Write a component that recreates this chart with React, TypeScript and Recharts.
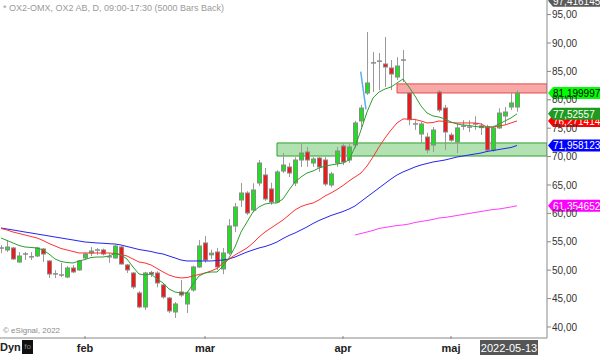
import React from 'react';
import { ComposedChart, Bar, Line, XAxis, YAxis, ReferenceArea, ReferenceLine } from 'recharts';

// ---- price data (daily bars, index 0 = first visible bar) ----
const opens = [53.9,53.56,53.91,51.44,52.85,52.35,52.5,53.73,51.62,49.35,49.15,48.8,50.39,50.04,52.15,53.03,53.55,53.56,52.35,52.15,54.08,50.92,49.5,45.99,43.52,49.6,49.5,47.39,45.1,42.64,46.16,44.05,46.51,50.56,54.79,52.7,53.2,50.21,53.03,57.78,62.36,63.59,60.6,65.35,66.76,64.3,62.0,67.46,68.17,65.35,69.4,70.81,68.87,69.75,69.4,65.0,68.87,71.86,69.4,72.04,76.27,81.2,86.5,86.8,86.3,85.6,84.01,87.0,81.2,75.75,73.98,73.45,72.04,81.37,78.55,73.8,72.57,75.35,75.2,75.75,75.4,75.2,71.16,75.04,77.15,78.73,78.73];
const highs = [54.4,55.3,54.1,53.2,53.2,53.2,54.1,53.9,51.8,50.0,51.27,50.7,50.9,51.8,53.1,54.08,53.9,53.8,53.0,54.4,54.3,51.1,49.7,46.3,49.7,49.9,49.8,47.6,45.3,44.4,48.27,46.3,50.8,55.3,56.0,53.6,53.9,53.9,59.0,61.83,65.35,63.9,65.3,69.4,68.0,65.4,67.6,70.63,68.9,69.9,72.39,71.7,69.9,69.9,69.9,67.3,71.7,72.4,72.4,76.3,79.1,91.94,88.41,88.24,91.06,87.0,87.5,88.77,81.4,76.4,76.1,74.2,75.2,81.7,79.1,74.2,75.9,76.4,76.4,77.1,75.9,75.6,75.4,78.5,78.73,81.37,81.7];
const lows = [53.0,53.2,51.8,51.27,51.8,51.8,52.3,51.44,48.63,48.6,48.8,48.6,49.5,49.9,51.9,52.5,52.7,52.6,51.3,52.0,51.0,49.5,46.7,43.3,43.0,48.8,47.0,45.0,42.46,41.58,45.3,42.46,46.2,50.4,51.3,52.0,50.0,49.3,52.7,56.7,61.13,59.7,60.2,64.8,62.2,61.5,61.8,67.1,66.4,64.8,68.17,68.2,68.2,67.3,64.8,64.6,68.2,68.5,68.9,71.5,75.2,80.85,81.37,81.7,82.25,81.7,83.5,83.13,75.5,74.7,72.39,70.6,70.8,77.8,71.16,72.6,70.6,74.7,74.3,74.7,73.8,70.8,70.8,74.9,75.6,78.2,77.9];
const closes = [53.9,54.08,51.97,52.5,52.85,52.35,53.91,52.85,49.33,49.35,49.15,50.39,49.69,51.62,52.85,53.38,53.55,52.85,52.35,54.26,51.09,50.04,47.04,43.52,49.51,49.3,47.75,45.28,42.82,44.05,45.63,45.99,50.56,54.26,51.79,53.0,50.56,53.03,57.78,61.13,63.59,60.07,64.12,68.87,62.54,62.0,67.29,68.52,67.11,69.4,70.63,69.4,69.58,68.17,65.17,66.94,70.98,69.05,71.69,75.92,78.55,82.96,86.5,86.8,85.77,84.54,85.95,87.0,76.5,75.75,75.74,71.16,74.68,78.2,74.33,72.9,75.04,75.35,75.2,75.75,75.1,71.16,75.04,77.67,77.85,79.44,81.2];

// ---- moving averages ----
const maGreen = [55.67,55.23,54.79,54.35,54.08,54.0,53.91,53.56,52.85,51.97,51.53,51.35,51.27,51.62,51.88,52.23,52.32,52.32,52.5,52.94,52.68,51.97,50.56,49.33,49.15,49.33,48.45,47.75,46.69,46.16,45.98,45.98,47.57,48.98,49.51,49.68,49.68,50.74,52.15,54.08,56.72,58.48,60.25,61.13,61.65,61.83,61.83,62.54,64.12,65.53,66.41,67.11,67.46,67.99,68.34,68.52,68.7,68.87,69.4,71.69,74.68,77.85,80.32,81.37,81.9,82.25,82.96,83.66,82.25,80.67,78.91,77.68,77.15,76.97,76.62,76.09,75.74,75.56,75.48,75.3,75.21,75.21,75.21,75.74,76.27,76.8,77.53];
const maRed = [57.34,57.08,56.72,56.46,56.2,55.93,55.67,55.23,54.7,54.26,53.82,53.56,53.29,53.03,53.03,53.03,53.03,53.03,53.03,52.94,52.76,52.5,51.97,51.44,51.27,50.92,50.3,49.69,49.15,48.8,48.63,48.71,48.98,49.24,49.5,49.86,50.3,51.27,51.97,52.68,53.29,53.91,54.79,55.84,56.72,57.43,58.13,58.84,59.72,60.6,61.21,61.57,61.83,62.36,63.06,63.59,64.21,64.91,65.7,66.41,67.11,68.34,69.93,71.69,73.27,74.68,75.92,76.62,76.62,76.53,76.27,75.92,76.0,76.27,76.18,76.0,75.92,75.92,75.92,75.92,75.74,75.21,75.21,75.39,75.57,75.92,76.27];
const maBlue = [57.43,57.25,57.08,56.9,56.72,56.55,56.37,56.2,56.02,55.84,55.67,55.49,55.32,55.14,54.96,54.88,54.79,54.74,54.66,54.61,54.44,54.17,53.91,53.64,53.47,53.29,53.03,52.85,52.5,52.15,51.79,51.62,51.62,51.62,51.62,51.62,51.71,51.79,51.97,52.32,52.76,53.2,53.56,53.91,54.17,54.52,54.96,55.58,56.11,56.55,57.08,57.61,58.22,58.75,59.19,59.63,59.98,60.33,60.77,61.3,62.1,62.89,63.68,64.47,65.26,66.05,66.76,67.29,67.73,68.17,68.52,68.78,69.05,69.22,69.4,69.66,69.93,70.1,70.28,70.46,70.63,70.9,71.07,71.25,71.43,71.6,71.96];
const maMagentaStart = 59;
const maMagenta = [56.2,56.46,56.72,56.99,57.34,57.52,57.69,57.87,57.96,58.13,58.4,58.57,58.75,58.93,59.19,59.28,59.45,59.63,59.81,59.98,60.16,60.33,60.51,60.69,60.77,60.95,61.13,61.35];

// ---- axis labels ----
const monthLabels = ['feb', 'mar', 'apr', 'maj'];
const monthStartIdx = [14, 34, 57, 75];
const lastDate = '2022-05-13';
const priceTicks = [40, 45, 50, 55, 60, 65, 70, 75, 80, 85, 90, 95];

// ---- drawn zones and trend line ----
const supportZone = [46, 91, 70.1, 72.4];
const resistanceZone = [66, 91, 81.2, 82.8];
const trendLine = [{ x: 59.95, y: 84.95 }, { x: 60.83, y: 78.33 }];

// ---- right-axis price tags ----
const tagValues = [97.416145, 61.354652, 71.958123, 76.271414, 77.52557, 81.199997];
const tagTexts = ['97,416145', '61,354652', '71,958123', '76,271414', '77,52557', '81,199997'];
const tagBg = ['#5a5a5a', '#ff00ff', '#0000ff', '#ff0000', '#1e9a1e', '#00ff00'];
const tagFg = ['#ffffff', '#ffffff', '#ffffff', '#ffffff', '#ffffff', '#000000'];

const data = opens.map((o, i) => ({
  i,
  open: o,
  high: highs[i],
  low: lows[i],
  close: closes[i],
  g: maGreen[i],
  r: maRed[i],
  b: maBlue[i],
  m: i >= maMagentaStart ? maMagenta[i - maMagentaStart] : null,
}));

const FONT = '"Liberation Sans", Arial, sans-serif';

const Candle = (props: any) => {
  const { x, y, width, height, payload } = props;
  if (!payload || height == null) return null;
  const { open, close, high, low } = payload;
  const top = Math.min(y, y + height);
  const h = Math.abs(height);
  const ppu = h / (high - low);
  const yOf = (v: number) => top + (high - v) * ppu;
  const cx = Math.round(x + width / 2) + 0.5;
  const bodyTop = yOf(Math.max(open, close));
  const bodyBot = yOf(Math.min(open, close));
  const doji = Math.abs(open - close) < 0.05;
  const fill = close > open ? '#1fe01f' : '#f01818';
  return (
    <g>
      <line x1={cx} x2={cx} y1={top} y2={top + h} stroke="#9a9a9a" strokeWidth={1} />
      {doji ? (
        <line x1={cx - 2.5} x2={cx + 2.5} y1={bodyTop} y2={bodyTop} stroke="#8a8a8a" strokeWidth={1.5} />
      ) : (
        <rect x={cx - 2} y={bodyTop} width={4} height={Math.max(1, bodyBot - bodyTop)} fill={fill} stroke="#8a8a8a" strokeWidth={1} />
      )}
    </g>
  );
};

const PriceTag = (props: any) => {
  const { viewBox, text, bg, fg } = props;
  if (!viewBox) return null;
  const x = viewBox.x + viewBox.width;
  const y = viewBox.y;
  const pts = `${x + 1},${y} ${x + 6},${y - 6} ${x + 54},${y - 6} ${x + 54},${y + 6} ${x + 6},${y + 6}`;
  return (
    <g>
      <polygon points={pts} fill={bg} />
      <text x={x + 6} y={y + 4} fontSize={10} fontFamily={FONT} fill={fg}>{text}</text>
    </g>
  );
};

const XTick = (props: any) => {
  const { x, y, payload } = props;
  const v = payload.value;
  const mi = monthStartIdx.indexOf(v);
  if (mi >= 0) {
    return (
      <g>
        <line x1={x} x2={x} y1={y - 2} y2={y + 1} stroke="#888" />
        <text x={x} y={y + 14} textAnchor="middle" fontSize={11} fontWeight="bold" fontFamily={FONT} fill="#222">{monthLabels[mi]}</text>
      </g>
    );
  }
  return (
    <g>
      <rect x={x - 37} y={y + 2} width={58} height={15} fill="#555555" />
      <text x={x - 8} y={y + 14} textAnchor="middle" fontSize={11} fontFamily={FONT} fill="#ffffff">{lastDate}</text>
    </g>
  );
};

const fmt = (v: number) => v.toFixed(2).replace('.', ',');

export default function App() {
  const lastIdx = opens.length - 1;
  return (
    <div style={{ position: 'absolute', left: 0, top: 0, width: 600, height: 355, background: '#fff' }}>
      <ComposedChart width={600} height={355} data={data} margin={{ top: 0, right: 0, left: 0, bottom: 0 }}>
        <XAxis
          dataKey="i"
          type="number"
          domain={[-1 / 6, 91]}
          allowDataOverflow
          ticks={[...monthStartIdx, lastIdx]}
          tick={<XTick />}
          tickLine={false}
          tickSize={0}
          tickMargin={0}
          height={17}
          axisLine={{ stroke: '#8a8a8a' }}
          interval={0}
        />
        <YAxis
          orientation="right"
          width={53}
          type="number"
          domain={[38.06, 97.57]}
          allowDataOverflow
          ticks={priceTicks}
          tickFormatter={fmt}
          tick={{ fontSize: 10, fill: '#333', fontFamily: FONT }}
          tickSize={4}
          tickMargin={1}
          tickLine={{ stroke: '#888' }}
          axisLine={{ stroke: '#8a8a8a' }}
          interval={0}
        />
        <ReferenceArea x1={supportZone[0]} x2={supportZone[1]} y1={supportZone[2]} y2={supportZone[3]} fill="#b2e2b2" fillOpacity={1} stroke="#2ea02e" strokeWidth={1} ifOverflow="hidden" />
        <ReferenceArea x1={resistanceZone[0]} x2={resistanceZone[1]} y1={resistanceZone[2]} y2={resistanceZone[3]} fill="#f9a8a8" fillOpacity={1} stroke="#e84848" strokeWidth={1} ifOverflow="hidden" />
        <Line dataKey="m" stroke="#ff3cff" strokeWidth={1} dot={false} activeDot={false} isAnimationActive={false} connectNulls={false} />
        <Line dataKey="b" stroke="#2424f0" strokeWidth={1} dot={false} activeDot={false} isAnimationActive={false} />
        <Line dataKey="r" stroke="#ff3030" strokeWidth={1} dot={false} activeDot={false} isAnimationActive={false} />
        <Line dataKey="g" stroke="#2e9e2e" strokeWidth={1} dot={false} activeDot={false} isAnimationActive={false} />
        <Bar dataKey={(d: any) => [d.low, d.high]} barSize={5} shape={<Candle />} isAnimationActive={false} />
        <ReferenceLine segment={trendLine} stroke="#5ab0f0" strokeWidth={1.5} ifOverflow="visible" />
        {tagValues.map((v, k) => (
          <ReferenceLine key={k} y={v} stroke="none" ifOverflow="visible" label={<PriceTag text={tagTexts[k]} bg={tagBg[k]} fg={tagFg[k]} />} />
        ))}
      </ComposedChart>
      <div style={{ position: 'absolute', left: 3, top: 3, fontSize: 9, color: '#9a9a9a', fontFamily: FONT, whiteSpace: 'nowrap' }}>
        * OX2-OMX, OX2 AB, D, 09:00-17:30 (5000 Bars Back)
      </div>
      <div style={{ position: 'absolute', left: 3, top: 326, fontSize: 8, color: '#8a8a8a', fontFamily: FONT, whiteSpace: 'nowrap' }}>
        © eSignal, 2022
      </div>
      <div style={{ position: 'absolute', left: 0, top: 341, fontSize: 11, fontWeight: 'bold', color: '#222', fontFamily: FONT }}>Dyn</div>
      <div style={{ position: 'absolute', left: 22, top: 340, width: 11, height: 14, background: '#111', color: '#888', fontSize: 8, fontFamily: FONT, textAlign: 'center', lineHeight: '14px' }}>fo</div>
    </div>
  );
}
